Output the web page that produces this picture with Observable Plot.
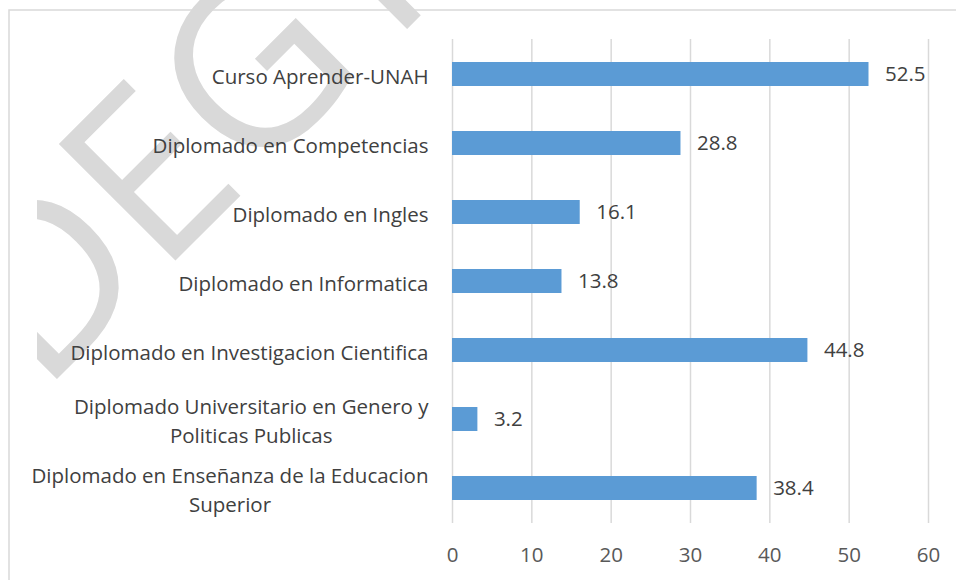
<!DOCTYPE html>
<html>
<head>
<meta charset="utf-8">
<script src="https://cdn.jsdelivr.net/npm/d3@7"></script>
<script src="https://cdn.jsdelivr.net/npm/@observablehq/plot@0.6"></script>
<style>
  html, body { margin: 0; padding: 0; background: #fff; }
  #chart svg { display: block; }
</style>
</head>
<body>
<div id="chart"></div>
<script>
const categories = [
  "Curso Aprender-UNAH",
  "Diplomado en Competencias",
  "Diplomado en Ingles",
  "Diplomado en Informatica",
  "Diplomado en Investigacion Cientifica",
  "Diplomado Universitario en Genero y\nPoliticas Publicas",
  "Diplomado en Enseñanza de la Educacion\nSuperior"
];
const values = [52.5, 28.8, 16.1, 13.8, 44.8, 3.2, 38.4];
const xTicks = [0, 10, 20, 30, 40, 50, 60];
const watermark = "DEGT";

const data = categories.map((c, i) => ({category: c, value: values[i]}));

const FONT = "Open Sans";
const FS = 20.5;
const chart = Plot.plot({
  width: 956,
  height: 580,
  marginLeft: 452,
  marginRight: 28,
  marginTop: 39,
  marginBottom: 57,
  style: {fontFamily: FONT, background: "transparent", overflow: "visible"},
  x: {domain: [0, 60], ticks: xTicks, label: null},
  y: {domain: categories, paddingInner: 0.65, paddingOuter: 0.325, label: null},
  marks: [
    Plot.ruleX(xTicks, {stroke: "#d9d9d9", strokeWidth: 1.5}),
    Plot.barX(data, {x: "value", y: "category", fill: "#5B9BD5"}),
    Plot.text(data, {x: "value", y: "category", text: d => d.value.toFixed(1), dx: 16, textAnchor: "start", fill: "#404040", fontSize: FS}),
    Plot.axisX({ticks: xTicks, tickSize: 0, tickPadding: 24, fontSize: FS, fill: "#595959", label: null}),
    Plot.axisY({tickSize: 0, tickPadding: 24, fontSize: FS, fill: "#404040", lineHeight: 1.4, label: null})
  ]
});
document.getElementById("chart").append(chart);

// center multi-line category labels within their block (Excel style)
d3.select(chart).selectAll('g[aria-label="y-axis tick label"] text').each(function() {
  const tspans = Array.from(this.querySelectorAll("tspan"));
  if (tspans.length > 1) {
    const w = Math.max(...tspans.map(t => t.getComputedTextLength()));
    this.setAttribute("text-anchor", "middle");
    tspans.forEach(t => t.setAttribute("x", -w / 2));
  }
});

// decorative background: white fill, watermark (clipped like the original) and chart border
const svg = d3.select(chart);
const bg = svg.insert("g", ":first-child");
bg.append("defs").append("clipPath").attr("id", "wm-clip")
  .append("rect").attr("x", 37).attr("y", 0).attr("width", 919).attr("height", 580);
bg.append("rect").attr("x", 0).attr("y", 0).attr("width", 956).attr("height", 580).attr("fill", "#fff");
bg.append("g").attr("clip-path", "url(#wm-clip)")
  .append("text")
  .attr("transform", "translate(41,395) rotate(-45)")
  .attr("text-anchor", "start")
  .attr("font-family", FONT)
  .attr("font-size", 231)
  .attr("fill", "#d9d9d9")
  .text(watermark);
bg.append("rect")
  .attr("x", 9).attr("y", 10).attr("width", 1000).attr("height", 1000)
  .attr("fill", "none").attr("stroke", "#d9d9d9").attr("stroke-width", 1.5);
</script>
</body>
</html>
